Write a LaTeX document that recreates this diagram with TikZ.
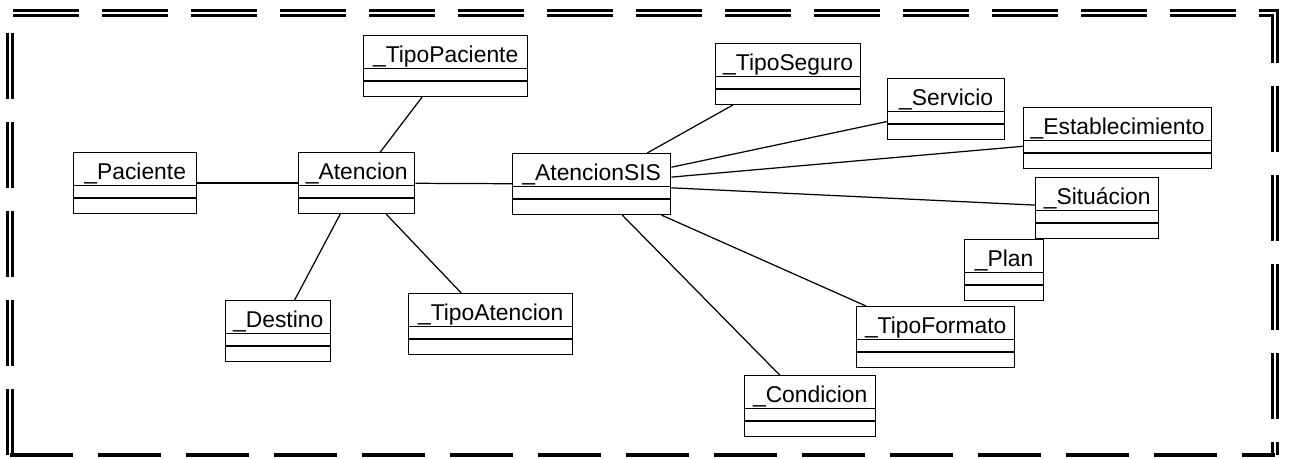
\documentclass[tikz,border=0pt]{standalone}
\usepackage{fontspec}
\setmainfont{Liberation Sans}
\usetikzlibrary{shapes.multipart}

% class box: name, then two empty compartments
\newcommand{\umlname}[1]{\rule[-0.1cm]{0pt}{0.63cm}\_#1\nodepart{two}\rule{0pt}{0.22cm}\nodepart{three}\rule{0pt}{0.28cm}}

\begin{document}
\begin{tikzpicture}[x=0.02cm,y=-0.02cm,
  cls/.style={rectangle split, rectangle split parts=3, draw, line width=0.8pt,
    anchor=north west, inner xsep=0pt, inner ysep=0pt, text width=#1, align=center,
    font=\fontsize{13}{15}\selectfont},
  link/.style={line width=0.7pt},
  frame/.style={line width=0.05cm, double, double distance=0.05cm,
    dash pattern=on 1.32cm off 0.46cm},
  frameb/.style={line width=0.07cm, dash pattern=on 1.26cm off 0.5cm}]
\useasboundingbox (0,0) rectangle (1289,459);

% Frame
\draw[frame] (10,455) -- (10,13) -- (1275,13) -- (1275,455);
\draw[frameb] (10,455) -- (1275,455);

% Classes
\node[cls=2.46cm] (pac) at (73,152) {\umlname{Paciente}};
\node[cls=2.32cm] (ate) at (298,152) {\umlname{Atencion}};
\node[cls=3.28cm] (tpac) at (363,35) {\umlname{TipoPaciente}};
\node[cls=2.10cm] (dest) at (225,300) {\umlname{Destino}};
\node[cls=3.28cm] (tate) at (408,293) {\umlname{TipoAtencion}};
\node[cls=3.16cm] (sis) at (512,153) {\umlname{AtencionSIS}};
\node[cls=2.90cm] (tseg) at (715,43) {\umlname{TipoSeguro}};
\node[cls=2.34cm] (serv) at (887,78) {\umlname{Servicio}};
\node[cls=3.76cm] (est) at (1023,107) {\umlname{Establecimiento}};
\node[cls=2.46cm] (sit) at (1035,177) {\umlname{Situ\'acion}};
\node[cls=1.58cm] (plan) at (964,239) {\umlname{Plan}};
\node[cls=3.16cm] (tfor) at (856,306) {\umlname{TipoFormato}};
\node[cls=2.62cm] (cond) at (744,375) {\umlname{Condicion}};

% Associations
\draw[link] (pac) -- (ate);
\draw[link] (ate) -- (sis);
\draw[link] (tpac) -- (ate);
\draw[link] (ate) -- (dest);
\draw[link] (ate) -- (tate);
\draw[link] (sis) -- (tseg);
\draw[link] (sis) -- (serv);
\draw[link] (sis) -- (est);
\draw[link] (sis) -- (sit);
\draw[link] (sis) -- (tfor);
\draw[link] (sis) -- (cond);
\end{tikzpicture}
\end{document}
